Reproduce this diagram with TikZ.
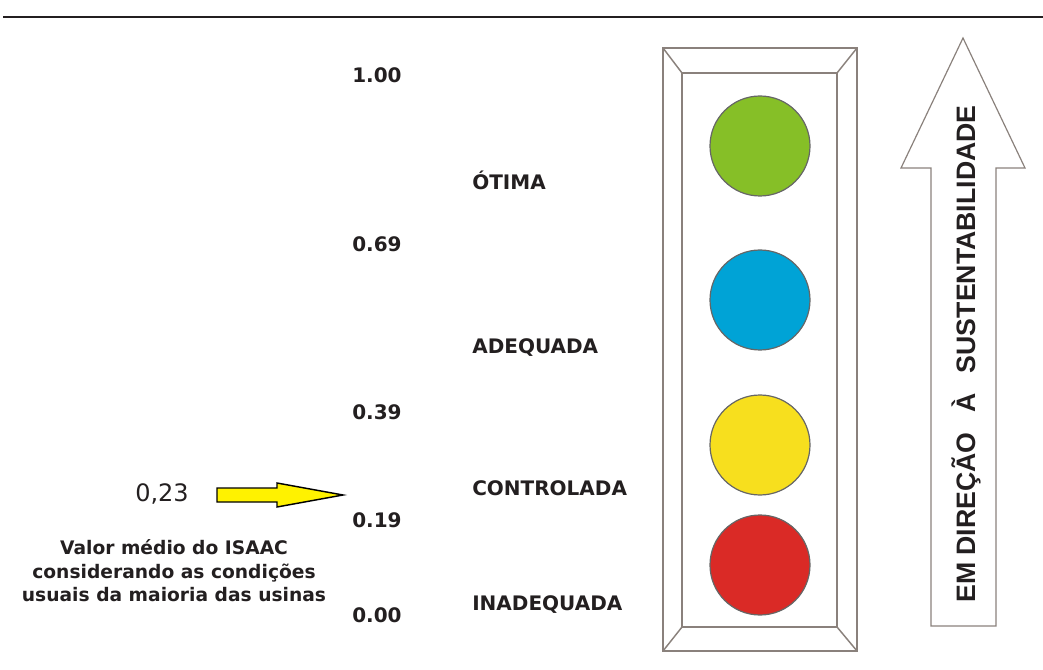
\documentclass[tikz,border=0pt]{standalone}
\usepackage{fontspec}
\setmainfont{DejaVu Sans}
\newfontfamily\arialfont{Liberation Sans}
\usepackage{xcolor}
\usepackage{tikz}
\usetikzlibrary{positioning}

\definecolor{lampgreen}{RGB}{134,191,39}
\definecolor{lampblue}{RGB}{0,163,214}
\definecolor{lampyellow}{RGB}{247,223,30}
\definecolor{lampred}{RGB}{218,42,38}
\definecolor{framegray}{RGB}{138,129,124}
\definecolor{inkdark}{RGB}{35,31,32}

\tikzset{
  num/.style={anchor=west, inner sep=0pt, text=inkdark, font=\bfseries\fontsize{15}{18}\selectfont},
  level/.style={anchor=west, inner sep=0pt, text=inkdark, font=\bfseries\fontsize{15}{18}\selectfont},
  lamp/.style={circle, draw=black!60, line width=0.9pt, minimum size=75pt, inner sep=0pt},
  frameline/.style={draw=framegray, line width=1.1pt}
}

\begin{document}
\begin{tikzpicture}[x=0.75pt, y=-0.75pt]
        \useasboundingbox (0,0) rectangle (1043,670);

        % Top rule
        \draw[inkdark, line width=1.5pt] (3,17) -- (1043,17);

        % Scale values
        \node[num] (n100) at (352,75) {1.00};
        \node[num] (n069) at (352,244) {0.69};
        \node[num] (n039) at (352,412) {0.39};
        \node[num] (n019) at (352,520) {0.19};
        \node[num] (n000) at (352,615) {0.00};

        % Classes
        \node[level] (otima) at (472,180) {ÓTIMA};
        \node[level] (adequada) at (472,348) {ADEQUADA};
        \node[level] (controlada) at (472,488) {CONTROLADA};
        \node[level] (inadequada) at (472,605) {INADEQUADA};

        % Mean value
        \node[text=inkdark, font=\fontsize{18}{20}\selectfont, inner sep=0pt] (valor) at (162,494) {0,23};
        \draw[fill=yellow, line width=1.1pt, line join=miter]
            (217,488) -- (277,488) -- (277,483) -- (343,495) -- (277,507) -- (277,502) -- (217,502) -- cycle;
        \node[align=center, text=inkdark, inner sep=0pt,
              font=\bfseries\fontsize{14}{17.6}\selectfont] (legenda) at (174,571)
            {Valor médio do ISAAC\\considerando as condições\\usuais da maioria das usinas};

        % Traffic light frame
        \draw[frameline] (663,48) rectangle (857,651);
        \draw[frameline] (682,73) rectangle (837,627);
        \draw[frameline] (663,48) -- (682,73);
        \draw[frameline] (857,48) -- (837,73);
        \draw[frameline] (663,651) -- (682,627);
        \draw[frameline] (857,651) -- (837,627);

        % Lamps
        \node[lamp, fill=lampgreen] (verde) at (760,146) {};
        \node[lamp, fill=lampblue] (azul) at (760,300) {};
        \node[lamp, fill=lampyellow] (amarelo) at (760,445) {};
        \node[lamp, fill=lampred] (vermelho) at (760,565) {};

        % Direction arrow
        \draw[frameline, line width=0.9pt, line join=miter]
            (931,626) -- (931,168) -- (901,168) -- (963,38) -- (1025,168) -- (996,168) -- (996,626) -- cycle;
        \node[rotate=90, inner sep=0pt, text=inkdark, font=\arialfont\bfseries\fontsize{20}{24}\selectfont] (rumo) at (966,354)
            {EM DIREÇÃO\hspace{0.75em}À\hspace{0.75em}SUSTENTABILIDADE};
    \end{tikzpicture}
\end{document}
